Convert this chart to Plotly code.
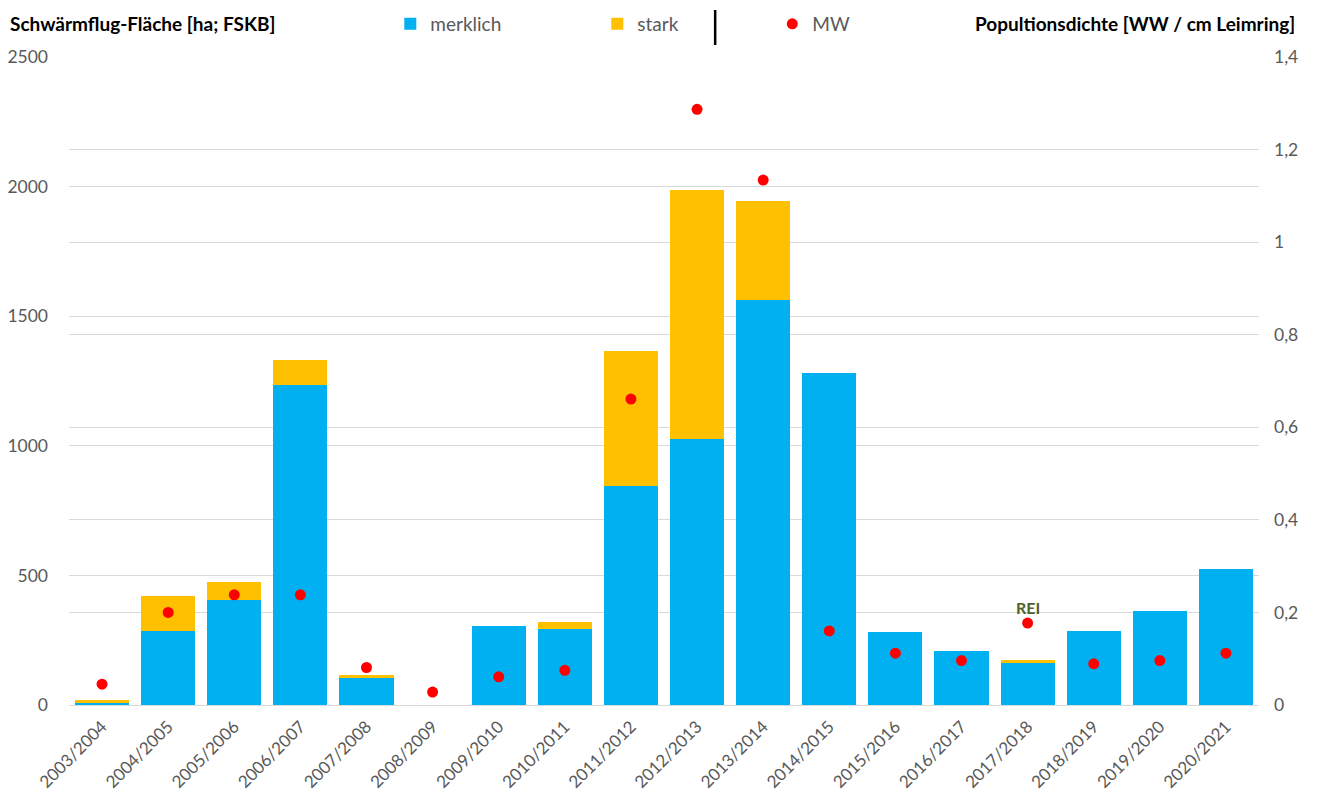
import plotly.graph_objects as go

categories = ["2003/2004", "2004/2005", "2005/2006", "2006/2007", "2007/2008", "2008/2009",
              "2009/2010", "2010/2011", "2011/2012", "2012/2013", "2013/2014", "2014/2015",
              "2015/2016", "2016/2017", "2017/2018", "2018/2019", "2019/2020", "2020/2021"]
merklich = [9, 285, 405, 1236, 104, 0, 305, 294, 845, 1026, 1562, 1281, 280, 209, 163, 284, 364, 525]
stark = [9, 135, 71, 95, 11, 0, 0, 26, 521, 961, 382, 0, 0, 0, 11, 0, 0, 0]
mw = [0.045, 0.200, 0.238, 0.238, 0.081, 0.028, 0.061, 0.075, 0.661, 1.287, 1.134, 0.160,
      0.112, 0.096, 0.177, 0.089, 0.096, 0.112]

left_ticks = [0, 500, 1000, 1500, 2000, 2500]
left_ticktext = ["0", "500", "1000", "1500", "2000", "2500"]
right_ticks = [0, 0.2, 0.4, 0.6, 0.8, 1.0, 1.2, 1.4]
right_ticktext = ["0", "0,2", "0,4", "0,6", "0,8", "1", "1,2", "1,4"]

note_category = "2017/2018"
note_text = "REI"

FONT = "Lato, 'Open Sans', sans-serif"
GRAY = "#595959"
GRID = "#d9d9d9"

fig = go.Figure()
fig.add_trace(go.Bar(x=categories, y=merklich, name="merklich",
                     marker=dict(color="#00b0f0", line=dict(width=0)), legend="legend"))
fig.add_trace(go.Bar(x=categories, y=stark, name="stark",
                     marker=dict(color="#ffc000", line=dict(width=0)), legend="legend"))
fig.add_trace(go.Scatter(x=categories, y=mw, name="MW", mode="markers", yaxis="y2",
                         marker=dict(color="#ff0000", size=11), legend="legend2"))

note_idx = categories.index(note_category)
fig.add_annotation(x=note_category, y=mw[note_idx], yref="y2", text="<b>" + note_text + "</b>",
                   showarrow=False, yshift=16, font=dict(family=FONT, size=16, color="#4f6228"))

fig.add_annotation(xref="paper", yref="paper", x=-0.051, y=1.051, xanchor="left", yanchor="middle",
                   text="<b>Schwärmflug-Fläche [ha; FSKB]</b>", showarrow=False,
                   font=dict(family=FONT, size=19, color="#000000"))
fig.add_annotation(xref="paper", yref="paper", x=1.032, y=1.051, xanchor="right", yanchor="middle",
                   text="<b>Popultionsdichte [WW / cm Leimring]</b>", showarrow=False,
                   font=dict(family=FONT, size=19, color="#000000"))

fig.add_shape(type="line", xref="paper", yref="paper", x0=0.543, x1=0.543, y0=1.0185, y1=1.0725,
              line=dict(color="#000000", width=2.5))

fig.update_layout(
    width=1320, height=798,
    margin=dict(l=69, r=61, t=57, b=93, autoexpand=False),
    plot_bgcolor="white", paper_bgcolor="white",
    barmode="stack", bargap=0.18,
    font=dict(family=FONT, size=18, color=GRAY),
    xaxis=dict(categoryorder="array", categoryarray=categories, tickangle=-45,
               range=[-0.5, len(categories) - 0.5], automargin=False,
               showgrid=False, showline=True, linecolor=GRID, linewidth=1,
               ticks="", tickfont=dict(family=FONT, size=17, color=GRAY), ticklabelstandoff=4),
    yaxis=dict(range=[0, 2500], tickvals=left_ticks, ticktext=left_ticktext, automargin=False,
               showgrid=True, gridcolor=GRID, gridwidth=1, zeroline=False,
               ticks="", tickfont=dict(family=FONT, size=17.5, color=GRAY), ticklabelstandoff=20),
    yaxis2=dict(range=[0, 1.4], tickvals=right_ticks, ticktext=right_ticktext, overlaying="y",
                side="right", showgrid=True, gridcolor=GRID, gridwidth=1, zeroline=False,
                automargin=False,
                ticks="", tickfont=dict(family=FONT, size=17.5, color=GRAY), ticklabelstandoff=14),
    legend=dict(orientation="h", x=0.270, y=1.051, xanchor="left", yanchor="middle",
                entrywidth=162, entrywidthmode="pixels", bgcolor="rgba(0,0,0,0)",
                font=dict(family=FONT, size=19, color=GRAY), traceorder="normal"),
    legend2=dict(orientation="h", x=0.591, y=1.051, xanchor="left", yanchor="middle",
                 bgcolor="rgba(0,0,0,0)", font=dict(family=FONT, size=19, color=GRAY)),
    showlegend=True,
)

fig.write_html("out.html")
